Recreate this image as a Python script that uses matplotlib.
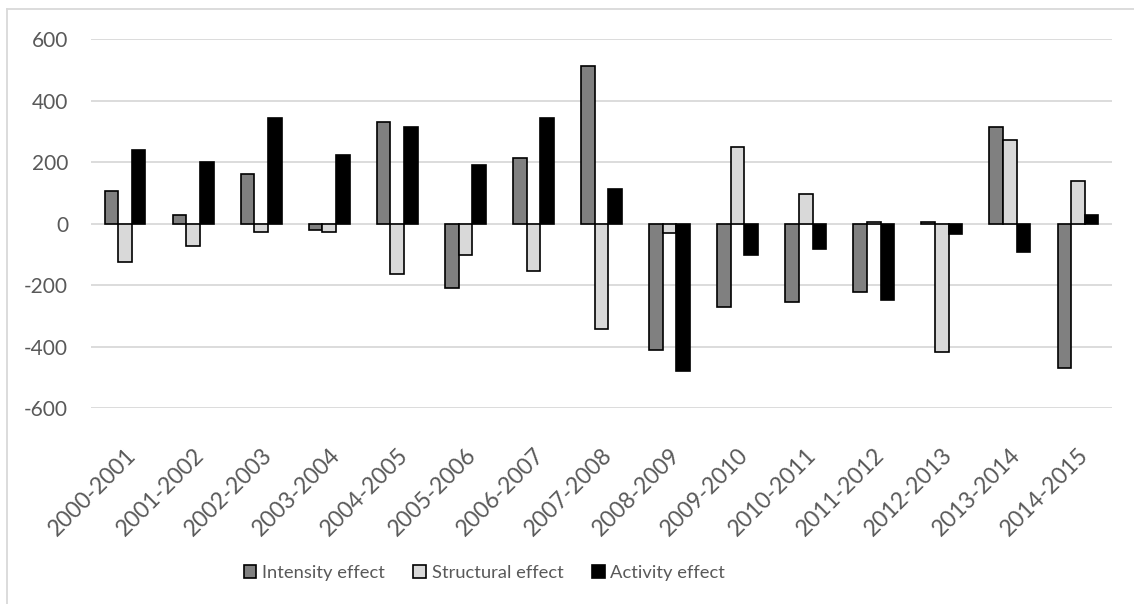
import matplotlib.pyplot as plt
import numpy as np
from matplotlib.lines import Line2D

periods = ["2000-2001", "2001-2002", "2002-2003", "2003-2004", "2004-2005",
           "2005-2006", "2006-2007", "2007-2008", "2008-2009", "2009-2010",
           "2010-2011", "2011-2012", "2012-2013", "2013-2014", "2014-2015"]
intensity = [106, 28, 160, -22, 329, -209, 214, 511, -409, -270, -253, -221, 4, 313, -470]
structural = [-126, -73, -28, -26, -162, -103, -153, -343, -29, 250, 97, 5, -418, 272, 140]
activity = [238, 199, 343, 224, 313, 191, 343, 112, -480, -102, -81, -247, -34, -92, 27]
yticks = [-600, -400, -200, 0, 200, 400, 600]

series = [("Intensity effect", intensity, "#808080"),
          ("Structural effect", structural, "#D9D9D9"),
          ("Activity effect", activity, "#000000")]

plt.rcParams['font.family'] = ['Lato', 'DejaVu Sans']
txt = "#595959"

fig = plt.figure(figsize=(11.34, 6.04), dpi=100)
ax = fig.add_axes([91 / 1134, 1 - 408.3 / 604, (1112 - 91) / 1134, (408.3 - 39) / 604])

x = np.arange(len(periods))
w = 0.2
for i, (name, vals, col) in enumerate(series):
    ax.bar(x + (i - 1) * w, vals, width=w, color=col, edgecolor="black",
           linewidth=1.2, label=name, zorder=3)

ax.set_xlim(-0.5, len(periods) - 0.5)
ax.set_ylim(-600, 600)
ax.set_yticks(yticks)
ax.set_yticklabels([str(v) for v in yticks], fontsize=15, color=txt)
ax.yaxis.grid(True, color="#D9D9D9", linewidth=1.3, zorder=0)
ax.set_axisbelow(True)
for s in ax.spines.values():
    s.set_visible(False)
ax.tick_params(axis="both", length=0)
ax.set_xticks(x)
ax.set_xticklabels(periods, rotation=45, ha="right", va="top",
                   rotation_mode="anchor", fontsize=16.5, color=txt)
ax.tick_params(axis="x", pad=26)
ax.tick_params(axis="y", pad=16.5)

leg = fig.legend(loc="center", bbox_to_anchor=(0.427, 1 - 573 / 604), ncol=3,
                 frameon=False, fontsize=13.2, handlelength=0.7, handleheight=0.7,
                 handletextpad=0.3, columnspacing=1.55, labelcolor=txt)

# chart area border (left and top)
fig.add_artist(Line2D([7 / 1134, 7 / 1134], [0, 1 - 9 / 604], color="#D9D9D9", linewidth=1.3))
fig.add_artist(Line2D([7 / 1134, 1], [1 - 9 / 604, 1 - 9 / 604], color="#D9D9D9", linewidth=1.3))

fig.savefig("out.png", dpi=100)
